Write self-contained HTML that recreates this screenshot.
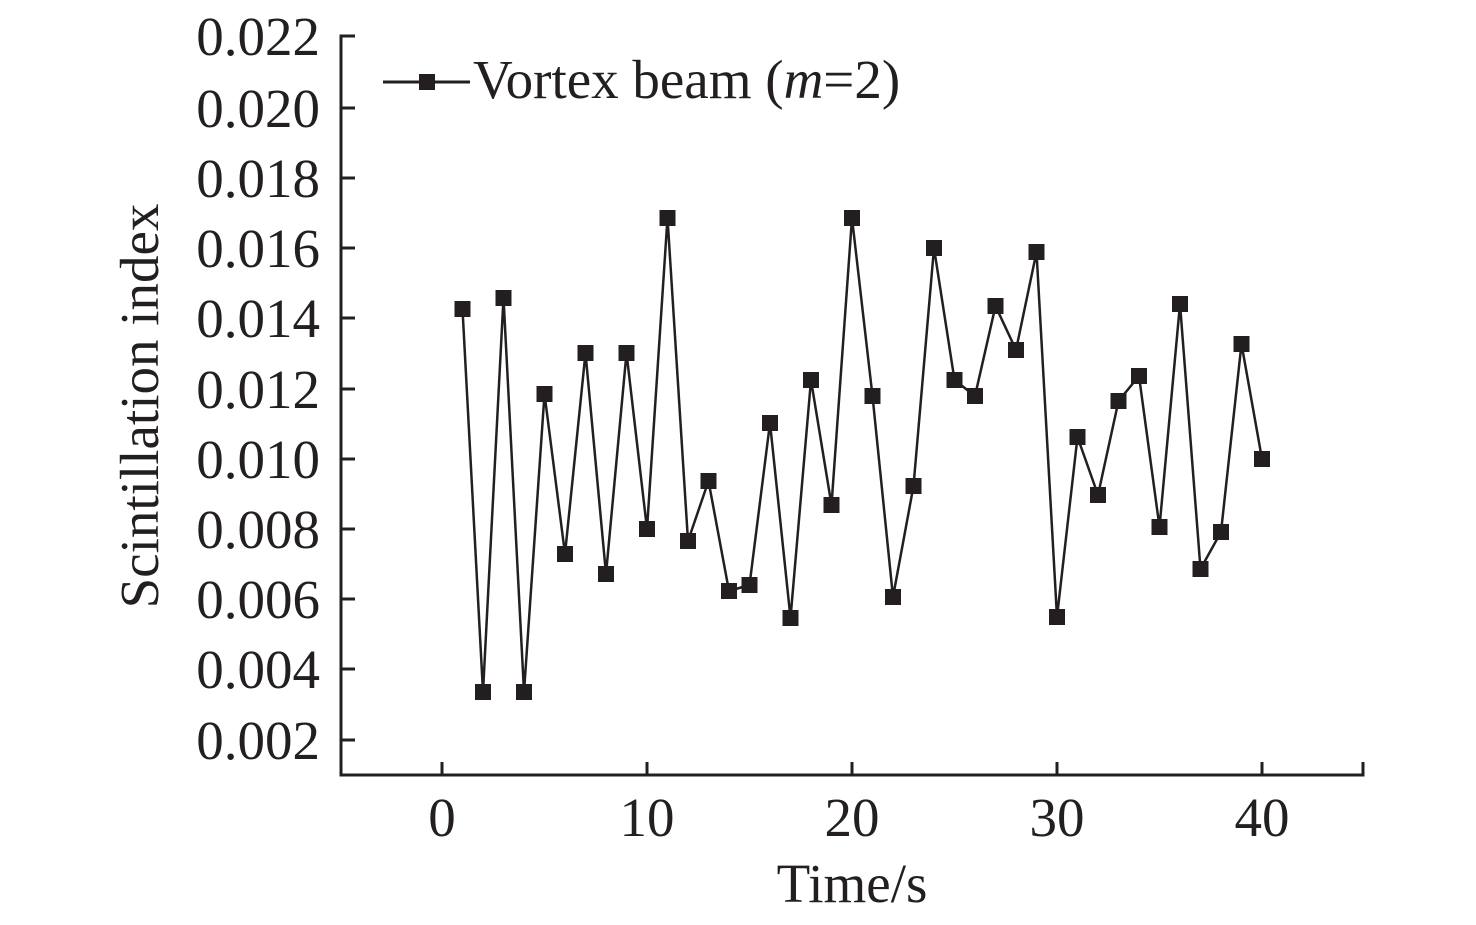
<!DOCTYPE html>
<html><head><style>body{margin:0;background:#fff}svg{display:block}text{font-family:"Liberation Serif",serif;fill:#231f20}</style></head>
<body>
<svg width="1476" height="925" xmlns="http://www.w3.org/2000/svg">
<defs>
<marker id="sq" markerUnits="userSpaceOnUse" markerWidth="18" markerHeight="18" refX="9" refY="9" overflow="visible">
<rect x="1" y="1" width="16" height="16" fill="#231f20"/>
</marker>
</defs>
<g stroke="#231f20" stroke-width="3" fill="none">
<path d="M355,36H341V775H1363V762"/>
<path d="M341,108H355M341,178H355M341,248H355M341,318H355M341,389H355M341,459H355M341,529H355M341,599H355M341,669H355M341,740H355"/>
<path d="M442,775V762M647,775V762M852,775V762M1057,775V762M1262,775V762"/>
</g>
<g font-size="55" text-anchor="end">
<text x="320" y="55">0.022</text><text x="320" y="127">0.020</text><text x="320" y="197">0.018</text><text x="320" y="267">0.016</text><text x="320" y="337">0.014</text><text x="320" y="408">0.012</text><text x="320" y="478">0.010</text><text x="320" y="548">0.008</text><text x="320" y="618">0.006</text><text x="320" y="688">0.004</text><text x="320" y="759">0.002</text>
</g>
<g font-size="55" text-anchor="middle">
<text x="442" y="836">0</text><text x="647" y="836">10</text><text x="852" y="836">20</text><text x="1057" y="836">30</text><text x="1262" y="836">40</text>
<text x="852" y="902">Time/s</text>
<text transform="translate(158,406) rotate(-90)">Scintillation index</text>
</g>
<polyline fill="none" stroke="#231f20" stroke-width="2.5" marker-start="url(#sq)" marker-mid="url(#sq)" marker-end="url(#sq)" points="462.5,309 483,692 503.5,298 524,692 544.5,394 565,554 585.5,353 606,574 626.5,353 647,529 667.5,218 688,541 708.5,481 729,591 749.5,585 770,423 790.5,618 811,380 831.5,505 852,218 872.5,396 893,597 913.5,486 934,248 954.5,380 975,396 995.5,306 1016,350 1036.5,252 1057,617 1077.5,437 1098,495 1118.5,401 1139,376 1159.5,527 1180,304 1200.5,569 1221,532 1241.5,344 1262,459"/>
<path d="M383,82H470" stroke="#231f20" stroke-width="3"/>
<rect x="419" y="74" width="16" height="16" fill="#231f20"/>
<text x="473" y="98" font-size="55">Vortex beam (<tspan font-style="italic">m</tspan>=2)</text>
</svg>
</body></html>
